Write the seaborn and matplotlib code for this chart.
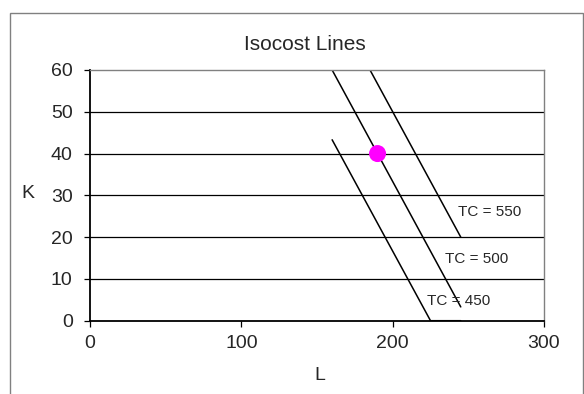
import matplotlib.pyplot as plt
import pandas as pd
import seaborn as sns
from matplotlib.patches import Rectangle

# Isocost lines (L on x, K on y)
L_450 = [160, 225, 245]
K_450 = [43.3, 0, 0]
L_500 = [160, 245]
K_500 = [60, 3.3]
L_550 = [160, 245]
K_550 = [76.7, 20]

# optimal point
pt_L = [190]
pt_K = [40]

labels = ['TC = 550', 'TC = 500', 'TC = 450']
label_L = [243, 234.5, 222.5]
label_K = [26, 14.8, 4.7]

sns.set_style('white')
plt.rcParams['font.family'] = ['Liberation Sans', 'DejaVu Sans']

fig = plt.figure(figsize=(5.84, 3.94), dpi=100)
ax = fig.add_axes([90 / 584, 1 - 320.7 / 394, 454 / 584, 250.7 / 394])

# chart area border
fig.patches.append(Rectangle((10 / 584, -0.1), 573 / 584, 1.1 - 13 / 394,
                             transform=fig.transFigure, fill=False,
                             edgecolor='#808080', linewidth=1.0))

for Ls, Ks in [(L_450, K_450), (L_500, K_500), (L_550, K_550)]:
    df = pd.DataFrame({'L': Ls, 'K': Ks})
    sns.lineplot(data=df, x='L', y='K', ax=ax, color='black', linewidth=1.1,
                 sort=False, estimator=None)

sns.scatterplot(x=pt_L, y=pt_K, ax=ax, color='#ff00ff', s=150, edgecolor='none',
                zorder=5)

for txt, x, y in zip(labels, label_L, label_K):
    ax.text(x, y, txt, fontsize=11, va='center', ha='left')

ax.set_xlim(0, 300)
ax.set_ylim(0, 60)
ax.set_xticks([0, 100, 200, 300])
ax.set_yticks([0, 10, 20, 30, 40, 50, 60])
for y in [10, 20, 30, 40, 50]:
    ax.axhline(y, color='black', linewidth=0.9, zorder=0)

ax.tick_params(axis='both', labelsize=14, direction='out', width=0.9,
               color='black', left=True, bottom=True)
ax.tick_params(axis='y', length=4.5, pad=8)
ax.tick_params(axis='x', length=4, pad=6.5)
ax.set_xlabel('')
ax.set_ylabel('')

for s in ['top', 'right']:
    ax.spines[s].set_color('#808080')
    ax.spines[s].set_linewidth(1.0)
for s in ['left', 'bottom']:
    ax.spines[s].set_color('black')
    ax.spines[s].set_linewidth(1.3)

fig.text(305 / 584, 1 - 45 / 394, 'Isocost Lines', fontsize=15, ha='center', va='center')
fig.text(28 / 584, 1 - 194 / 394, 'K', fontsize=14, ha='center', va='center')
fig.text(320 / 584, 1 - 376 / 394, 'L', fontsize=14, ha='center', va='center')

fig.savefig('out.png', dpi=100)
